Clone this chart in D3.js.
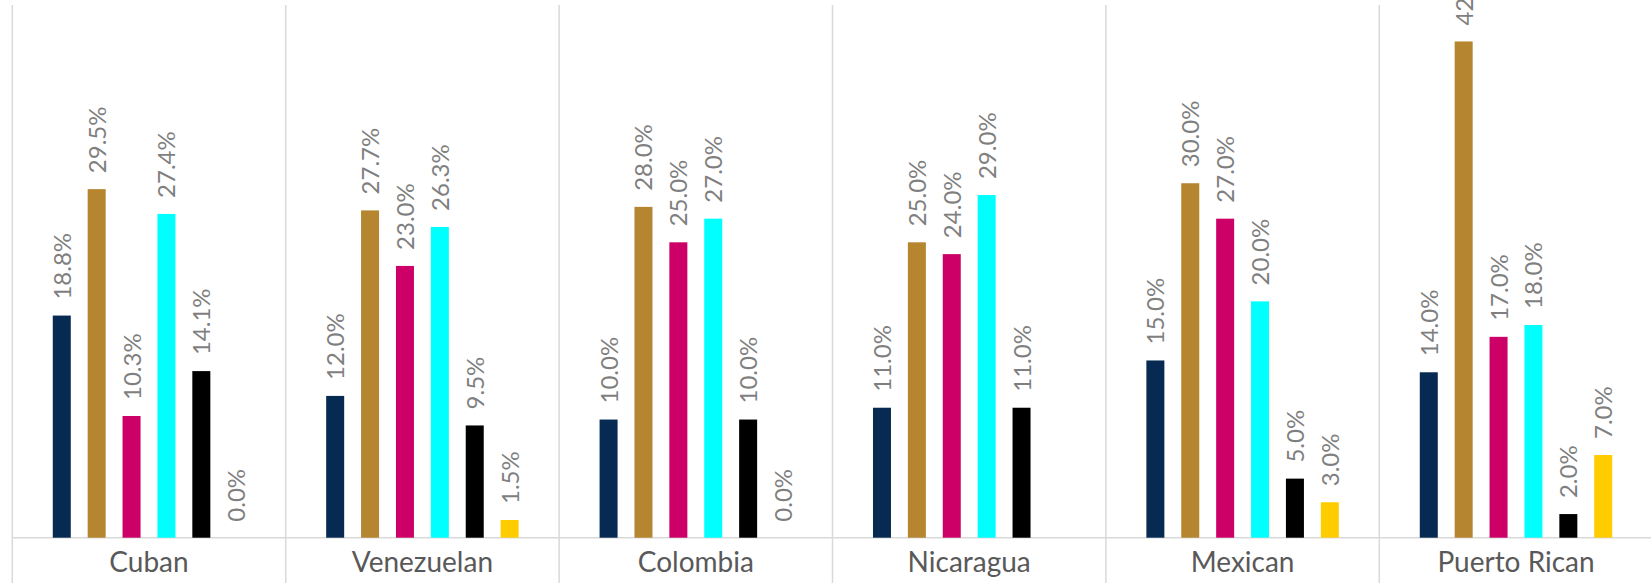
<!DOCTYPE html>
<html>
<head>
<meta charset="utf-8">
<script src="https://cdn.jsdelivr.net/npm/d3@7"></script>
<style>
body { margin: 0; background: #fff; }
svg { display: block; }
.cat text { font-family: Lato, sans-serif; font-size: 28px; fill: #595959; }
.lbl { font-family: Lato, sans-serif; font-size: 24px; fill: #7f7f7f; }
</style>
</head>
<body>
<div id="chart"></div>
<script>
// Data
var categories = ["Cuban", "Venezuelan", "Colombia", "Nicaragua", "Mexican", "Puerto Rican"];
var seriesNames = ["s1", "s2", "s3", "s4", "s5", "s6"];
var seriesColors = ["#062a51", "#b5852f", "#cc0066", "#00ffff", "#000000", "#ffcc00"];
// one array per series, one value per category (percent)
var s1 = [18.8, 12.0, 10.0, 11.0, 15.0, 14.0];
var s2 = [29.5, 27.7, 28.0, 25.0, 30.0, 42.0];
var s3 = [10.3, 23.0, 25.0, 24.0, 27.0, 17.0];
var s4 = [27.4, 26.3, 27.0, 29.0, 20.0, 18.0];
var s5 = [14.1, 9.5, 10.0, 11.0, 5.0, 2.0];
var s6 = [0.0, 1.5, 0.0, null, 3.0, 7.0];
var seriesValues = [s1, s2, s3, s4, s5, s6];

var W = 1651, H = 583;
var plotLeft = 12.3, groupW = 273.4, plotBase = 537.7, plotTop = 6;

var svg = d3.select("#chart").append("svg")
    .attr("width", W)
    .attr("height", H);

var x0 = d3.scaleBand()
    .domain(categories)
    .range([plotLeft, plotLeft + groupW * categories.length])
    .padding(0);

var x1 = d3.scaleBand()
    .domain(seriesNames)
    .range([0, x0.bandwidth()])
    .paddingInner(0.484)
    .paddingOuter(1.16);

var y = d3.scaleLinear().domain([0, 45]).range([plotBase, plotTop]);

// separators between categories
var seps = categories.map(c => x0(c)).concat([x0.range()[1]]);
svg.append("g").selectAll("line")
    .data(seps)
    .enter().append("line")
    .attr("x1", d => d).attr("x2", d => d)
    .attr("y1", 5).attr("y2", H)
    .attr("stroke", "#d9d9d9")
    .attr("stroke-width", 1.5);

// baseline
svg.append("line")
    .attr("x1", plotLeft).attr("x2", W)
    .attr("y1", y(0)).attr("y2", y(0))
    .attr("stroke", "#d9d9d9")
    .attr("stroke-width", 1.5);

// flatten to bar records
var bars = [];
categories.forEach(function(c, ci) {
    seriesNames.forEach(function(s, si) {
        var v = seriesValues[si][ci];
        if (v === null) return;
        bars.push({cat: c, series: s, value: v, color: seriesColors[si]});
    });
});

var g = svg.append("g");

g.selectAll("rect")
    .data(bars)
    .enter().append("rect")
    .attr("x", d => x0(d.cat) + x1(d.series))
    .attr("y", d => y(d.value))
    .attr("width", x1.bandwidth())
    .attr("height", d => y(0) - y(d.value))
    .attr("fill", d => d.color);

g.selectAll(".lbl")
    .data(bars)
    .enter().append("text")
    .attr("class", "lbl")
    .attr("text-anchor", "start")
    .attr("transform", function(d) {
        var cx = x0(d.cat) + x1(d.series) + x1.bandwidth() / 2;
        return "translate(" + (cx + 9) + "," + (y(d.value) - 16) + ") rotate(-90)";
    })
    .text(d => d.value.toFixed(1) + "%");

// category axis
var xAxis = d3.axisBottom(x0).tickSize(0).tickPadding(0);
var ax = svg.append("g")
    .attr("class", "cat")
    .attr("transform", "translate(0," + plotBase + ")")
    .call(xAxis);
ax.select(".domain").remove();
ax.selectAll("text").attr("dy", null).attr("y", 34);
</script>
</body>
</html>
